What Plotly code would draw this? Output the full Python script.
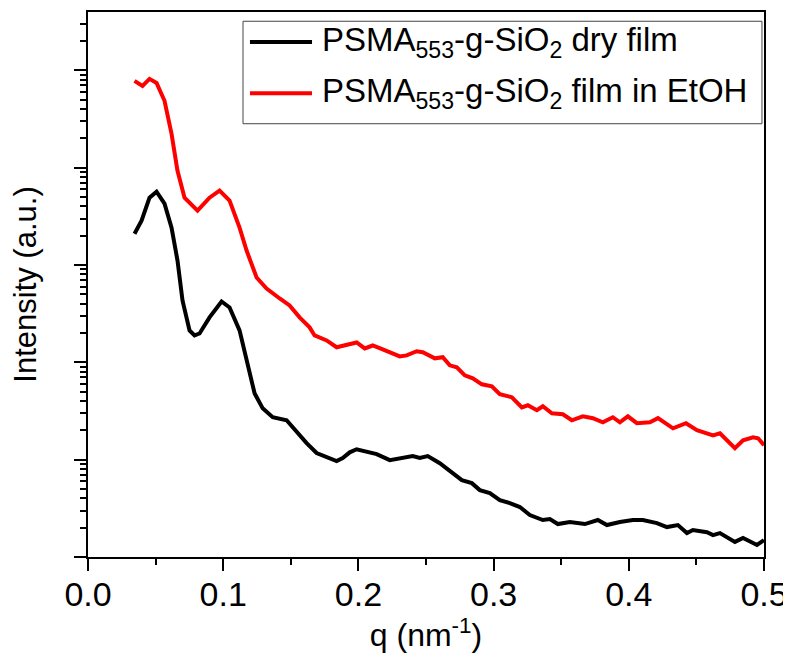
import plotly.graph_objects as go

# ---- data ----
q_dry = [0.0344, 0.0396, 0.0455, 0.0507, 0.0566, 0.0618, 0.0662, 0.0699, 0.0751, 0.0788,
         0.0825, 0.0899, 0.0988, 0.1047, 0.1121, 0.1173, 0.1232, 0.1292, 0.1366, 0.1469,
         0.1543, 0.1617, 0.1691, 0.1765, 0.1839, 0.1884, 0.1936, 0.1987, 0.2061, 0.2135,
         0.2232, 0.2306, 0.2402, 0.2454, 0.2513, 0.2602, 0.2691, 0.2765, 0.2839, 0.2898,
         0.2972, 0.3046, 0.3120, 0.3194, 0.3268, 0.3364, 0.3416, 0.3475, 0.3564, 0.3675,
         0.3771, 0.3838, 0.3934, 0.4030, 0.4104, 0.4208, 0.4282, 0.4363, 0.4430, 0.4474,
         0.4578, 0.4623, 0.4674, 0.4785, 0.4845, 0.4948, 0.5000]
I_dry = [2100, 2860, 4920, 5675, 4275, 2425, 1112, 432, 213, 189,
         198, 290, 422, 366, 213, 105, 48.1, 33.7, 27.3, 25.4,
         19.1, 14.8, 11.7, 10.6, 9.66, 10.4, 11.9, 12.8, 12.2, 11.4,
         9.88, 10.4, 10.9, 10.4, 10.9, 9.21, 7.45, 6.16, 5.74, 4.87,
         4.53, 3.84, 3.58, 3.26, 2.70, 2.40, 2.45, 2.18, 2.29, 2.18,
         2.40, 2.13, 2.29, 2.40, 2.40, 2.23, 2.03, 2.13, 1.76, 1.89,
         1.80, 1.68, 1.76, 1.43, 1.57, 1.33, 1.49]

q_etoh = [0.0344, 0.0403, 0.0455, 0.0507, 0.0566, 0.0618, 0.0662, 0.0714, 0.0810, 0.0899,
          0.0973, 0.1047, 0.1121, 0.1173, 0.1247, 0.1321, 0.1418, 0.1491, 0.1565, 0.1639,
          0.1676, 0.1765, 0.1839, 0.1913, 0.1987, 0.2047, 0.2106, 0.2180, 0.2306, 0.2357,
          0.2431, 0.2476, 0.2565, 0.2624, 0.2676, 0.2728, 0.2787, 0.2846, 0.2913, 0.2987,
          0.3046, 0.3135, 0.3209, 0.3253, 0.3320, 0.3364, 0.3431, 0.3512, 0.3579, 0.3660,
          0.3734, 0.3808, 0.3882, 0.3934, 0.3993, 0.4060, 0.4156, 0.4216, 0.4327, 0.4423,
          0.4504, 0.4623, 0.4674, 0.4785, 0.4845, 0.4919, 0.4956, 0.5000]
I_etoh = [78000, 69300, 81800, 74400, 48700, 22300, 9310, 4920, 3620, 4920,
          5810, 4590, 2425, 1408, 745, 574, 453, 384, 290, 229,
          189, 168, 143, 153, 160, 139, 149, 136, 115, 118,
          130, 127, 110, 113, 93.2, 88.9, 73.6, 68.5, 59.5, 56.7,
          47.0, 43.8, 34.5, 36.2, 32.2, 35.4, 30.0, 29.3, 25.4, 27.9,
          26.7, 24.2, 27.3, 24.2, 27.9, 23.7, 24.2, 26.7, 21.0, 23.7,
          20.1, 17.8, 18.7, 13.1, 15.8, 17.0, 16.6, 14.1]

names = ["PSMA<sub>553</sub>-g-SiO<sub>2</sub> dry film",
         "PSMA<sub>553</sub>-g-SiO<sub>2</sub> film in EtOH"]
colors = ["#000000", "#ff0000"]

x_ticks = [0.0, 0.1, 0.2, 0.3, 0.4, 0.5]
x_ticktext = ["0.0", "0.1", "0.2", "0.3", "0.4", "0.5"]
y_major = [1, 10, 100, 1000, 10000, 100000]
y_minor = [m * d for d in y_major for m in range(2, 10)]

FONT = "Liberation Sans, Arial, sans-serif"

fig = go.Figure()
fig.add_trace(go.Scatter(x=q_dry, y=I_dry, mode="lines", name=names[0],
                         line=dict(color=colors[0], width=4)))
fig.add_trace(go.Scatter(x=q_etoh, y=I_etoh, mode="lines", name=names[1],
                         line=dict(color=colors[1], width=4)))

# ---- legend drawn as a box with line samples (paper coordinates) ----
fig.add_shape(type="rect", xref="paper", yref="paper",
              x0=0.2293, x1=0.997, y0=0.795, y1=0.983,
              line=dict(color="#444444", width=1), fillcolor="white", layer="above")
row_y = [0.945, 0.851]
for name, col, yy in zip(names, colors, row_y):
    fig.add_shape(type="line", xref="paper", yref="paper",
                  x0=0.2396, x1=0.3314, y0=yy, y1=yy,
                  line=dict(color=col, width=4), layer="above")
    fig.add_annotation(xref="paper", yref="paper", x=0.3432, y=yy,
                       xanchor="left", yanchor="middle", showarrow=False,
                       text=name, font=dict(size=33, family=FONT, color="black"))

# the page places the figure 8 px from the top-left corner
fig.update_layout(
    width=783, height=655,
    margin=dict(l=80, r=27, t=4, b=106),
    paper_bgcolor="white", plot_bgcolor="white",
    font=dict(family=FONT, size=32, color="black"),
    showlegend=False,
    xaxis=dict(range=[0, 0.5], tickvals=x_ticks, ticktext=x_ticktext,
               ticks="outside", ticklen=12, tickwidth=2, tickcolor="black",
               showline=True, linecolor="black", linewidth=2, mirror=True,
               showgrid=False, zeroline=False, automargin=False,
               tickfont=dict(size=34, family=FONT), ticklabelstandoff=-6,
               minor=dict(dtick=0.05, tick0=0, ticks="outside", ticklen=6,
                          tickwidth=2, tickcolor="black", showgrid=False),
               title=dict(text="q (nm<sup>-1</sup>)", font=dict(size=32, family=FONT),
                          standoff=6)),
    yaxis=dict(type="log", range=[0, 5.6], tickvals=y_major, showticklabels=False,
               ticks="outside", ticklen=12, tickwidth=2, tickcolor="black",
               showline=True, linecolor="black", linewidth=2, mirror=True,
               showgrid=False, zeroline=False, automargin=False,
               minor=dict(tickvals=y_minor, ticks="outside", ticklen=6,
                          tickwidth=2, tickcolor="black", showgrid=False),
               title=dict(text="Intensity (a.u.)", font=dict(size=31, family=FONT),
                          standoff=30)),
)

fig.write_html("out.html")
